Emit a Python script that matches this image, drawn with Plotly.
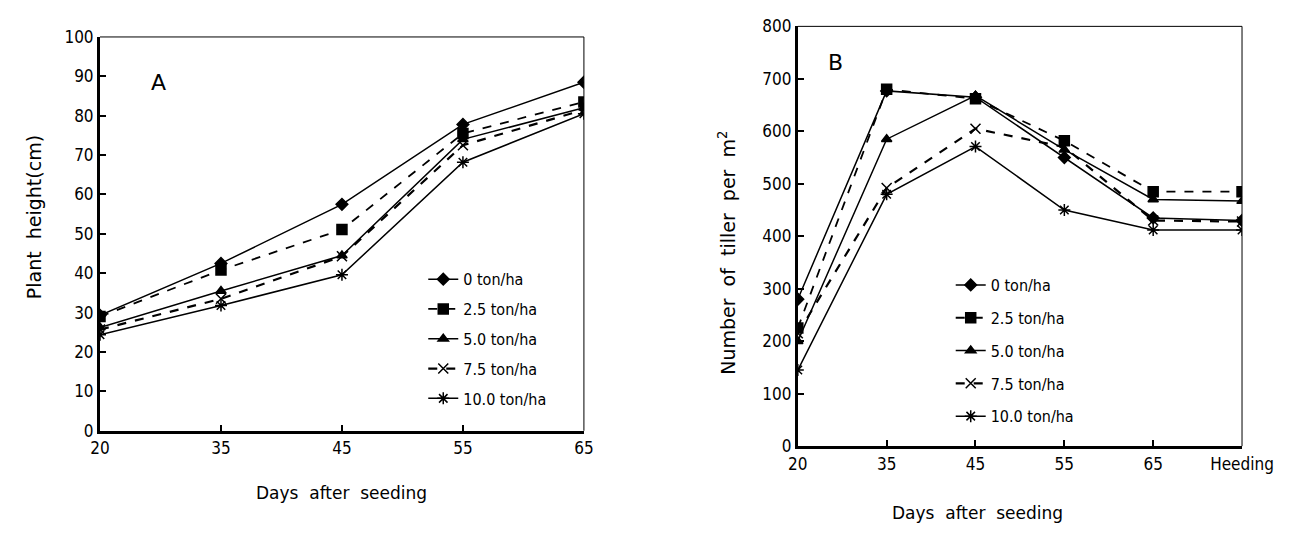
import plotly.graph_objects as go

W, H = 1305, 538

days_a = ["20", "35", "45", "55", "65"]
days_b = ["20", "35", "45", "55", "65", "Heeding"]
series_names = ["0 ton/ha", "2.5 ton/ha", "5.0 ton/ha", "7.5 ton/ha", "10.0 ton/ha"]

# Plant height (cm)
height_0 = [29.3, 42.5, 57.5, 77.8, 88.5]
height_25 = [29.0, 40.8, 51.1, 75.5, 83.5]
height_50 = [26.2, 35.5, 44.5, 74.0, 82.0]
height_75 = [25.7, 33.5, 44.3, 72.5, 81.5]
height_100 = [24.4, 31.8, 39.6, 68.2, 80.5]

# Number of tiller per m2
tiller_0 = [280, 677, 665, 550, 435, 430]
tiller_25 = [225, 680, 662, 582, 485, 485]
tiller_50 = [200, 585, 668, 565, 470, 467]
tiller_75 = [215, 492, 605, 570, 430, 428]
tiller_100 = [145, 480, 571, 450, 412, 412]

y_ticks_a = [0, 10, 20, 30, 40, 50, 60, 70, 80, 90, 100]
y_ticks_b = [0, 100, 200, 300, 400, 500, 600, 700, 800]

symbols = ["diamond", "square", "triangle-up", "x-thin-open", "asterisk-open"]
dashes = ["solid", "dash", "solid", "dash", "solid"]
widths = [1.5, 1.8, 1.5, 2.2, 1.5]
msizes = [9, 10, 9, 10, 10]

NUM = "Liberation Sans Narrow, DejaVu Sans Condensed, Arial Narrow, sans-serif"
TTL = "DejaVu Sans, sans-serif"

fig = go.Figure()

for i, (nm, ys) in enumerate(zip(series_names, [height_0, height_25, height_50, height_75, height_100])):
    fig.add_trace(go.Scatter(
        x=list(range(len(days_a))), y=ys, name=nm, mode="lines+markers",
        line=dict(color="black", width=widths[i], dash=dashes[i]),
        marker=dict(symbol=symbols[i], size=msizes[i], color="black",
                    line=dict(color="black", width=1.5)),
        xaxis="x", yaxis="y", legend="legend", legendgroup="a%d" % i,
    ))

for i, (nm, ys) in enumerate(zip(series_names, [tiller_0, tiller_25, tiller_50, tiller_75, tiller_100])):
    fig.add_trace(go.Scatter(
        x=list(range(len(days_b))), y=ys, name=nm, mode="lines+markers",
        line=dict(color="black", width=widths[i], dash=dashes[i]),
        marker=dict(symbol=symbols[i], size=msizes[i], color="black",
                    line=dict(color="black", width=1.5)),
        xaxis="x2", yaxis="y2", legend="legend2", legendgroup="b%d" % i,
    ))

def px_x(p):
    return p / W

def px_y(p):
    return (H - p) / H

axis_common = dict(showgrid=False, zeroline=False, showline=True, linecolor="black",
                   linewidth=3, ticks="inside", ticklen=6, tickwidth=2, tickcolor="black",
                   tickfont=dict(family=NUM, size=17, color="black"))

fig.update_layout(
    width=W, height=H, margin=dict(l=0, r=0, t=0, b=0),
    paper_bgcolor="white", plot_bgcolor="white", showlegend=True,
    xaxis=dict(domain=[px_x(93), px_x(593)], range=[0, 4], anchor="y",
               tickvals=list(range(len(days_a))), ticktext=days_a, **axis_common),
    yaxis=dict(domain=[px_y(437), px_y(28)], range=[0, 100], anchor="x",
               tickvals=y_ticks_a, ticktext=[str(v) for v in y_ticks_a], **axis_common),
    xaxis2=dict(domain=[px_x(814), px_x(1273)], range=[0, 5], anchor="y2",
                tickvals=list(range(len(days_b))), ticktext=days_b, **axis_common),
    yaxis2=dict(domain=[px_y(453), px_y(17)], range=[0, 800], anchor="x2",
                tickvals=y_ticks_b, ticktext=[str(v) for v in y_ticks_b], **axis_common),
    legend=dict(x=px_x(427), y=px_y(262), xanchor="left", yanchor="top",
                bgcolor="rgba(0,0,0,0)", tracegroupgap=6,
                font=dict(family=NUM, size=16, color="black")),
    legend2=dict(x=px_x(972), y=px_y(268), xanchor="left", yanchor="top",
                 bgcolor="rgba(0,0,0,0)", tracegroupgap=9,
                 font=dict(family=NUM, size=16, color="black")),
)

# thin top/right frame
for xr, yr in [("x domain", "y domain"), ("x2 domain", "y2 domain")]:
    fig.add_shape(type="line", xref=xr, yref=yr, x0=0, x1=1, y0=1, y1=1,
                  line=dict(color="black", width=1))
    fig.add_shape(type="line", xref=xr, yref=yr, x0=1, x1=1, y0=0, y1=1,
                  line=dict(color="black", width=1))

ann = [
    dict(text="A", x=px_x(153), y=px_y(75), font=dict(family="DejaVu Sans", size=22)),
    dict(text="B", x=px_x(853), y=px_y(55), font=dict(family="DejaVu Sans", size=22)),
    dict(text="Days  after  seeding", x=px_x(343), y=px_y(502),
         font=dict(family=TTL, size=17)),
    dict(text="Days  after  seeding", x=px_x(1000), y=px_y(522),
         font=dict(family=TTL, size=17)),
    dict(text="Plant  height(cm)", x=px_x(25), y=px_y(215), textangle=-90,
         font=dict(family=TTL, size=19)),
    dict(text="Number  of  tiller  per  m<sup>2</sup>", x=px_x(740), y=px_y(252), textangle=-90,
         font=dict(family=TTL, size=19)),
]
for a in ann:
    a.update(xref="paper", yref="paper", showarrow=False, xanchor="center", yanchor="middle")
    a["font"]["color"] = "black"
    fig.add_annotation(**a)

fig.write_html("out.html",
               config={"displayModeBar": False},
               post_script="document.body.style.margin='0';document.body.style.padding='0';"
                           "document.body.style.overflow='hidden';")
